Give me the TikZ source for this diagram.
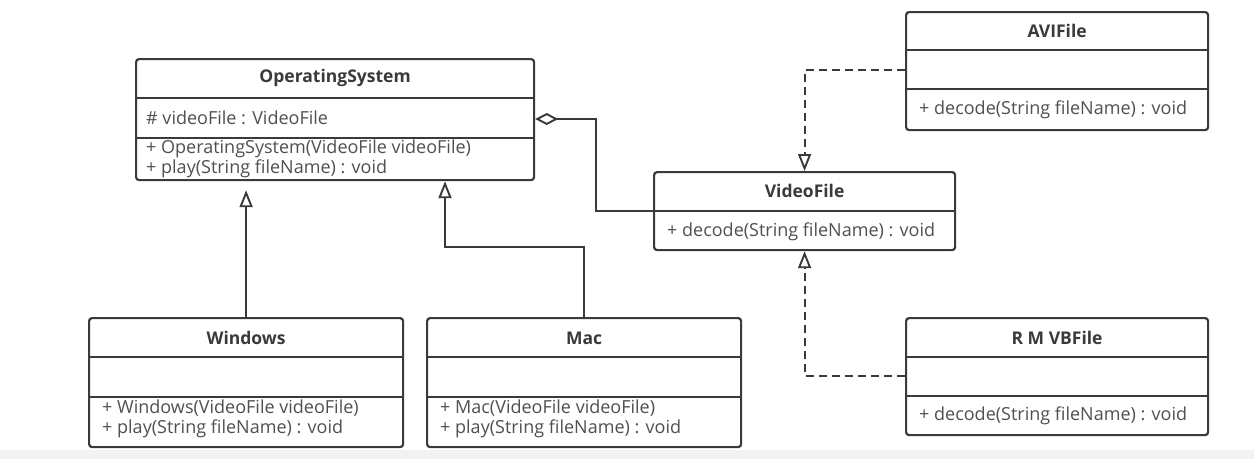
\documentclass[tikz,border=0pt]{standalone}
\usepackage{fontspec}
\setmainfont{Open Sans}
\usetikzlibrary{positioning,arrows.meta,calc}
\definecolor{umlline}{HTML}{3A3A3A}
\definecolor{umltext}{HTML}{505050}

\begin{document}
\begin{tikzpicture}[x=1pt,y=-1pt,
    cls/.style={draw=umlline,line width=2.2pt,rounded corners=3pt,inner sep=0pt,anchor=north west},
    ttl/.style={font=\fontsize{17.5}{19}\selectfont\bfseries,text=umlline,inner sep=0pt},
    mbr/.style={anchor=west,font=\fontsize{18}{20}\selectfont,text=umltext,inner sep=0pt},
    sep/.style={draw=umlline,line width=2.2pt},
    inherit/.style={draw=umlline,line width=2.2pt,-{Triangle[open,length=17pt,width=13pt,line width=1.9pt]}},
    realize/.style={inherit,dash pattern=on 8pt off 5pt},
    aggr/.style={draw=umlline,line width=2.2pt,{Diamond[open,length=23pt,width=12pt,line width=1.9pt]}-}]

    \useasboundingbox[fill=white] (0,0) rectangle (1254,459);
    \fill[black!5] (0,450) rectangle (1254,459);

    % the classes
    \node[cls,minimum width=398pt,minimum height=121pt] (os) at (135,58) {};
    \node[cls,minimum width=301pt,minimum height=78pt] (vf) at (653,171) {};
    \node[cls,minimum width=302pt,minimum height=118pt] (avi) at (905,11) {};
    \node[cls,minimum width=302pt,minimum height=117pt] (rmvb) at (905,317) {};
    \node[cls,minimum width=314pt,minimum height=129pt] (win) at (88,317) {};
    \node[cls,minimum width=314pt,minimum height=129pt] (mac) at (426,317) {};

    % the compartments
    \foreach \c/\a/\b in {os/40/80,avi/39/78,rmvb/40/79,win/40/80,mac/40/80}{
      \draw[sep] ($(\c.north west)+(0,\a)$) -- ($(\c.north east)+(0,\a)$);
      \draw[sep] ($(\c.north west)+(0,\b)$) -- ($(\c.north east)+(0,\b)$);
    }
    \draw[sep] (vf.west) -- (vf.east);

    % the texts
    \node[ttl] (ostitle) at ($(os.north)+(0,20)$) {OperatingSystem};
    \node[mbr] (osattr) at ($(os.north west)+(11,60)$) {\# videoFile : VideoFile};
    \node[mbr] (osctor) at ($(os.north west)+(11,91)$) {+ OperatingSystem(VideoFile videoFile)};
    \node[mbr] (osplay) at ($(os.north west)+(11,111)$) {+ play(String fileName) : void};

    \node[ttl] (vftitle) at ($(vf.north)+(0,20)$) {VideoFile};
    \node[mbr] (vfdecode) at ($(vf.north west)+(14,61)$) {+ decode(String fileName) : void};

    \node[ttl] (avititle) at ($(avi.north)+(0,20)$) {AVIFile};
    \node[mbr] (avidecode) at ($(avi.north west)+(14,99)$) {+ decode(String fileName) : void};

    \node[ttl] (rmvbtitle) at ($(rmvb.north)+(0,21)$) {R M VBFile};
    \node[mbr] (rmvbdecode) at ($(rmvb.north west)+(14,99)$) {+ decode(String fileName) : void};

    \node[ttl] (wintitle) at ($(win.north)+(0,21)$) {Windows};
    \node[mbr] (winctor) at ($(win.north west)+(14,91)$) {+ Windows(VideoFile videoFile)};
    \node[mbr] (winplay) at ($(win.north west)+(14,112)$) {+ play(String fileName) : void};

    \node[ttl] (mactitle) at ($(mac.north)+(0,21)$) {Mac};
    \node[mbr] (macctor) at ($(mac.north west)+(14,91)$) {+ Mac(VideoFile videoFile)};
    \node[mbr] (macplay) at ($(mac.north west)+(14,112)$) {+ play(String fileName) : void};

    % the relations
    \draw[aggr] ($(os.north east)+(0,61)$) -- ++(61,0) |- (vf.west);
    \draw[inherit,shorten >=9pt] (win.north) -- (win.north |- os.south);
    \draw[inherit] (mac.north) -- ++(0,-70) -| ($(os.south west)+(310,0)$);
    \draw[realize] ($(avi.north west)+(0,59)$) -| (vf.north);
    \draw[realize] ($(rmvb.north west)+(0,59)$) -| (vf.south);

\end{tikzpicture}
\end{document}
